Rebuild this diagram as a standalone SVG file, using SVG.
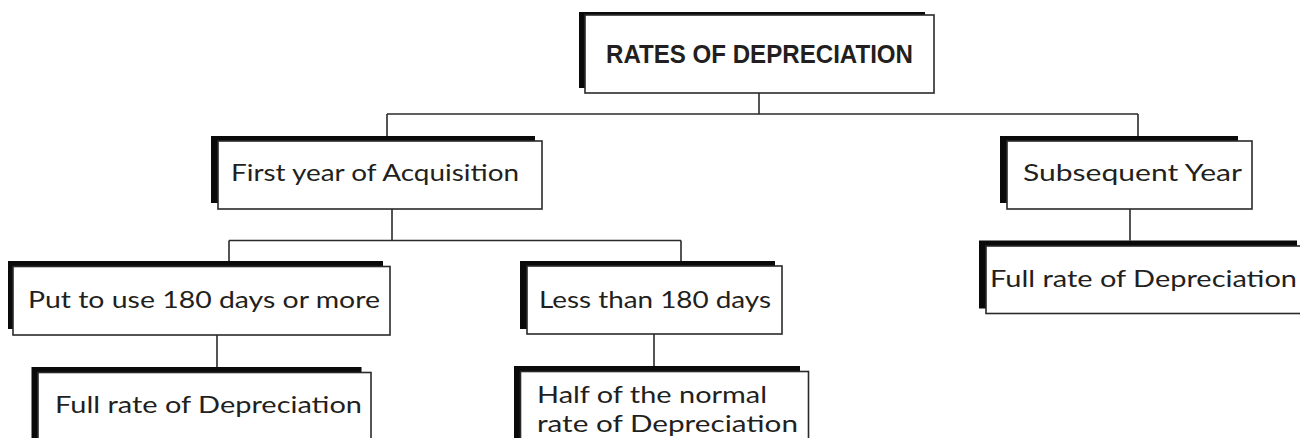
<svg xmlns="http://www.w3.org/2000/svg" width="1300" height="438" viewBox="0 0 1300 438">
  <style>
    .shadow { fill: #0a0a0a; }
    .box { fill: #ffffff; stroke: #2a2a2a; stroke-width: 1.6; }
    .label { font-family: Lato, "Open Sans", "Liberation Sans", sans-serif; font-size: 24px; font-weight: 400; fill: #231f20; }
    .title { font-family: "Liberation Sans", Arial, sans-serif; font-size: 25px; font-weight: bold; fill: #231f20; }
    .link { fill: none; stroke: #2a2a2a; stroke-width: 1.6; }
  </style>

  <rect width="1300" height="438" fill="#ffffff"/>

  <!-- connectors -->
  <g id="connectors">
    <path class="link" d="M759 93 V114"/>
    <path class="link" d="M387 114 H1138"/>
    <path class="link" d="M387 114 V136"/>
    <path class="link" d="M1138 114 V136"/>
    <path class="link" d="M392 209 V240.5"/>
    <path class="link" d="M229 240.5 H681"/>
    <path class="link" d="M229 240.5 V261"/>
    <path class="link" d="M681 240.5 V261"/>
    <path class="link" d="M217 335 V367"/>
    <path class="link" d="M654 334 V366"/>
    <path class="link" d="M1130 209 V240.5"/>
  </g>

  <!-- root -->
  <g id="node-rates">
    <rect class="shadow" x="579" y="12" width="346" height="76"/>
    <rect class="box" x="585" y="15" width="349" height="78"/>
    <text class="title" x="606" y="63" textLength="307" lengthAdjust="spacingAndGlyphs">RATES OF DEPRECIATION</text>
  </g>

  <g id="node-first-year">
    <rect class="shadow" x="211" y="136" width="324" height="67"/>
    <rect class="box" x="218" y="141" width="324" height="68"/>
    <text class="label" x="231" y="181" textLength="288" lengthAdjust="spacingAndGlyphs">First year of Acquisition</text>
  </g>

  <g id="node-subsequent">
    <rect class="shadow" x="1000" y="136" width="238" height="67"/>
    <rect class="box" x="1007" y="141" width="245" height="68"/>
    <text class="label" x="1023" y="181" textLength="219" lengthAdjust="spacingAndGlyphs">Subsequent Year</text>
  </g>

  <g id="node-full-right">
    <rect class="shadow" x="979" y="240.5" width="318" height="68"/>
    <rect class="box" x="986" y="246" width="330" height="67.5"/>
    <text class="label" x="990" y="287" textLength="307" lengthAdjust="spacingAndGlyphs">Full rate of Depreciation</text>
  </g>

  <g id="node-put-to-use">
    <rect class="shadow" x="8" y="261" width="375" height="68"/>
    <rect class="box" x="13" y="266.5" width="377" height="68.5"/>
    <text class="label" x="28" y="308" textLength="352" lengthAdjust="spacingAndGlyphs">Put to use 180 days or more</text>
  </g>

  <g id="node-less-than">
    <rect class="shadow" x="520" y="261" width="255" height="68"/>
    <rect class="box" x="527" y="266" width="255" height="68"/>
    <text class="label" x="539" y="308" textLength="232" lengthAdjust="spacingAndGlyphs">Less than 180 days</text>
  </g>

  <g id="node-full-left">
    <rect class="shadow" x="31.5" y="367" width="330" height="80"/>
    <rect class="box" x="38" y="372.5" width="333" height="80"/>
    <text class="label" x="55" y="413" textLength="307" lengthAdjust="spacingAndGlyphs">Full rate of Depreciation</text>
  </g>

  <g id="node-half">
    <rect class="shadow" x="514" y="366" width="286" height="80"/>
    <rect class="box" x="520.5" y="371.5" width="288" height="80"/>
    <text class="label" x="537" y="403" textLength="230" lengthAdjust="spacingAndGlyphs">Half of the normal</text>
    <text class="label" x="537" y="432" textLength="261" lengthAdjust="spacingAndGlyphs">rate of Depreciation</text>
  </g>
</svg>
